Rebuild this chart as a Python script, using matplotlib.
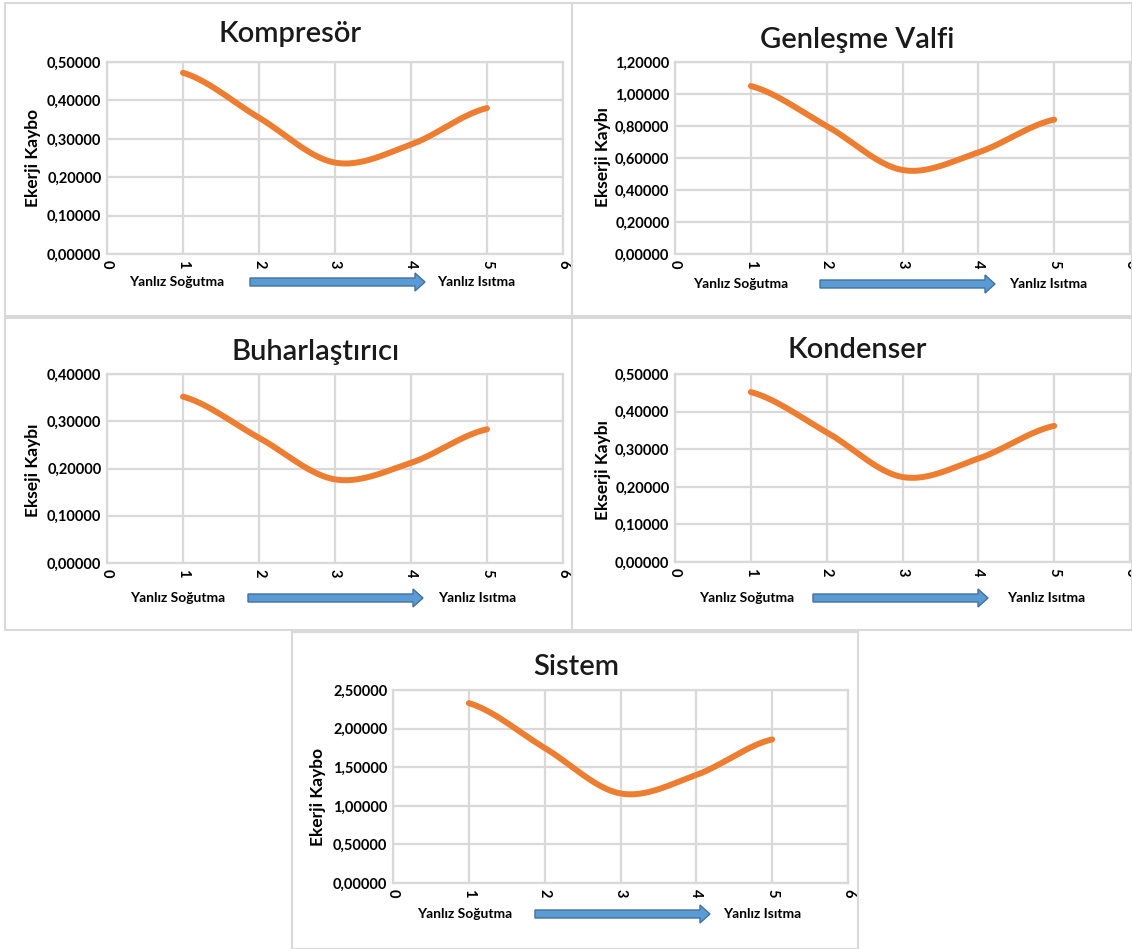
import matplotlib.pyplot as plt
import numpy as np
from matplotlib.patches import Rectangle, FancyArrow
from matplotlib.ticker import FuncFormatter

plt.rcParams['font.family'] = ['Lato', 'DejaVu Sans']

x = [1, 2, 3, 4, 5]

kompresor = [0.472, 0.355, 0.238, 0.285, 0.380]
genlesme = [1.050, 0.800, 0.525, 0.635, 0.840]
buharlastirici = [0.352, 0.265, 0.177, 0.212, 0.283]
kondenser = [0.452, 0.345, 0.226, 0.275, 0.362]
sistem = [2.330, 1.750, 1.160, 1.400, 1.860]

titles = ["Kompresör", "Genleşme Valfi", "Buharlaştırıcı", "Kondenser", "Sistem"]
ylabels = ["Ekerji Kaybo", "Ekserji Kaybı", "Ekseji Kaybı", "Ekserji Kaybı", "Ekerji Kaybo"]
series = [kompresor, genlesme, buharlastirici, kondenser, sistem]
ymax = [0.5, 1.2, 0.4, 0.5, 2.5]
ystep = [0.1, 0.2, 0.1, 0.1, 0.5]
left_label = "Yanlız Soğutma"
right_label = "Yanlız Isıtma"

W, H = 1132, 949

# panel layout in pixels: box, plot area, title/ylabel/footer positions
panels = [
    dict(box=(5, 3, 567, 313), plot=(107, 563, 62, 254), title=(290, 34), ylab=(33, 158),
         foot=(177, 282, 250, 425, 476)),
    dict(box=(572, 3, 560, 313), plot=(675, 1130, 62, 254), title=(857, 40), ylab=(603, 157),
         foot=(741, 284, 820, 995, 1048)),
    dict(box=(5, 318, 567, 312), plot=(107, 563, 374, 563), title=(316, 352), ylab=(33, 470),
         foot=(178, 598, 248, 423, 477)),
    dict(box=(572, 318, 560, 312), plot=(675, 1130, 374, 562), title=(857, 350), ylab=(603, 470),
         foot=(747, 598, 813, 988, 1046)),
    dict(box=(292, 632, 566, 317), plot=(393, 848, 690, 883), title=(576, 667), ylab=(318, 797),
         foot=(465, 914, 535, 710, 762)),
]


def smooth(xs, ys, n=40):
    # Catmull-Rom style smoothing through the points
    xs = np.asarray(xs, float)
    ys = np.asarray(ys, float)
    m = np.zeros_like(ys)
    m[1:-1] = (ys[2:] - ys[:-2]) / 2
    m[0] = (ys[1] - ys[0]) / 2
    m[-1] = (ys[-1] - ys[-2]) / 2
    outx, outy = [], []
    for i in range(len(xs) - 1):
        t = np.linspace(0, 1, n)
        h00 = 2 * t**3 - 3 * t**2 + 1
        h10 = t**3 - 2 * t**2 + t
        h01 = -2 * t**3 + 3 * t**2
        h11 = t**3 - t**2
        outx.extend(xs[i] + t * (xs[i + 1] - xs[i]))
        outy.extend(h00 * ys[i] + h10 * m[i] + h01 * ys[i + 1] + h11 * m[i + 1])
    return np.array(outx), np.array(outy)


fig = plt.figure(figsize=(W / 100, H / 100), dpi=100)
fig.patch.set_facecolor('white')

# overlay in pixel coordinates for frames, titles and footers
over = fig.add_axes([0, 0, 1, 1], zorder=5)
over.set_xlim(0, W)
over.set_ylim(H, 0)
over.axis('off')
over.patch.set_alpha(0)

comma = FuncFormatter(lambda v, p: f"{v:.5f}".replace('.', ','))

for p, ys, title, ylab, top, step in zip(panels, series, titles, ylabels, ymax, ystep):
    bx, by, bw, bh = p['box']
    over.add_patch(Rectangle((bx, by), bw, bh, fill=False, edgecolor='#D9D9D9', lw=1.5))

    l, r, t, b = p['plot']
    ax = fig.add_axes([l / W, 1 - b / H, (r - l) / W, (b - t) / H])
    sx, sy = smooth(x, ys)
    ax.plot(sx, sy, color='#ED7D31', lw=4.3, solid_capstyle='round', zorder=3)
    ax.set_xlim(0, 6)
    ax.set_ylim(0, top)
    ax.set_xticks(range(7))
    ax.set_yticks(np.arange(0, top + step / 2, step))
    ax.yaxis.set_major_formatter(comma)
    ax.grid(True, color='#D9D9D9', lw=1.6)
    ax.set_axisbelow(True)
    for s in ax.spines.values():
        s.set_color('#D9D9D9')
        s.set_linewidth(1.6)
    ax.tick_params(length=0, labelsize=10.5, colors='#000000', pad=4)
    for lab in ax.get_xticklabels():
        lab.set_rotation(-90)
        lab.set_fontweight('bold')
    for lab in ax.get_yticklabels():
        lab.set_fontweight('bold')

    tx, ty = p['title']
    over.text(tx, ty, title, ha='center', va='center', fontsize=21, fontweight='semibold',
              color='#1a1a1a')
    lx, lyy = p['ylab']
    over.text(lx, lyy, ylab, ha='center', va='center', rotation=90, fontsize=12.5,
              fontweight='bold')

    fx1, fy, ax0, ax1, fx2 = p['foot']
    over.text(fx1, fy, left_label, ha='center', va='center', fontsize=10, fontweight='bold')
    over.text(fx2, fy, right_label, ha='center', va='center', fontsize=10, fontweight='bold')
    over.add_patch(FancyArrow(ax0, fy, ax1 - ax0, 0, width=8, head_width=18, head_length=10,
                              length_includes_head=True, facecolor='#5B9BD5', edgecolor='#41719C', lw=1))

fig.savefig('out.png', dpi=100)
